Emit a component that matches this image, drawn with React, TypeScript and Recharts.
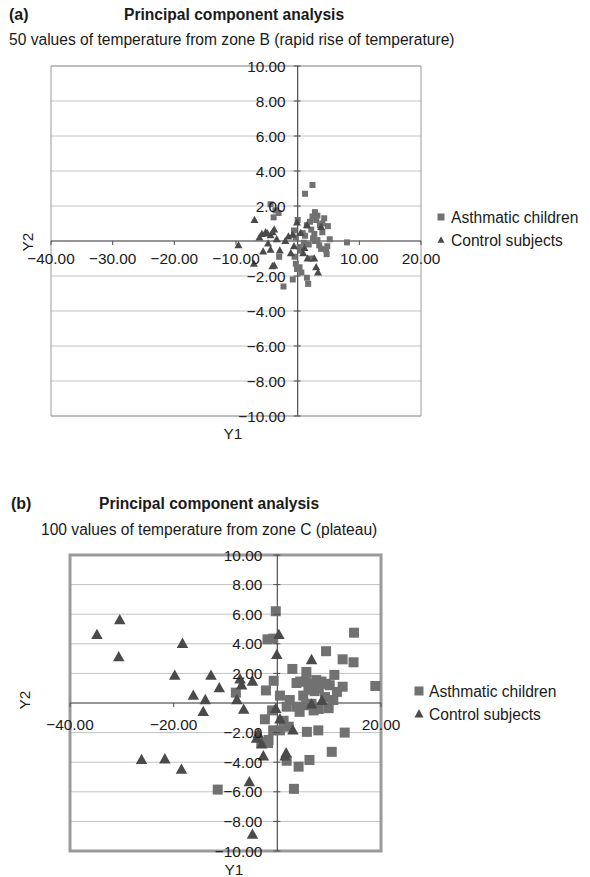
import React from 'react';
import { ScatterChart, Scatter, XAxis, YAxis, CartesianGrid, ReferenceLine, ReferenceArea, Legend } from 'recharts';

// PCA scores [Y1, Y2]
const asthmaticZoneB = [
  [2.4, 3.2], [1.2, 2.7], [-4.4, 2.1], [-3.6, 1.75], [-3.9, 1.35], [-3.1, 1.6],
  [0.0, 1.2], [2.8, 1.65], [3.2, 1.45], [4.3, 1.3], [4.9, 0.85], [5.2, 0.1], [8.0, -0.08],
  [4.6, -0.5], [4.7, -0.75], [4.8, -0.3], [0.8, 0.45], [2.2, 0.65], [2.7, 0.4], [2.5, 0.15],
  [3.2, 0.05], [3.5, -0.25], [3.8, -0.45], [1.5, 0.9], [2.0, 1.1], [3.6, 0.9], [4.0, 0.5],
  [1.0, -0.1], [0.3, -0.35], [0.5, -0.55], [-0.5, -0.9], [-0.3, -1.3], [-0.1, -1.6], [0.3, -1.5],
  [-0.8, -2.2], [-2.3, -2.6], [1.5, -2.1], [1.7, -2.45], [-3.0, -0.9], [-0.6, 0.6], [-0.3, 0.2],
  [1.8, -0.2], [2.2, -1.0], [2.8, 0.0], [1.2, 0.3], [3.0, 1.2], [2.4, 1.4], [4.0, 1.0], [0.6, -1.8],
];

const controlZoneB = [
  [-9.6, -0.25], [-7.0, 1.2], [-7.1, -1.3], [-5.8, 0.4], [-5.2, 0.5], [-4.9, 0.42], [-4.4, 0.32],
  [-4.05, 0.5], [-3.8, 0.65], [-5.6, -0.6], [-4.4, -0.5], [-4.8, -0.15], [-4.1, -1.45], [-3.8, -1.4],
  [-2.9, -0.55], [-2.0, 0.0], [-1.5, 0.25], [-0.8, 0.35], [-1.1, -0.7], [-0.1, 1.05], [0.5, 0.45],
  [1.5, 0.9], [3.8, 0.8], [1.1, -0.4], [1.6, -1.0], [2.7, -1.0], [3.0, -1.5], [3.3, -1.8],
  [-0.6, -0.3], [0.9, -0.7], [-3.4, 0.1], [-6.2, 0.2],
];

const asthmaticZoneC = [
  [-0.3, 6.2], [-1.9, 4.3], [-0.8, 4.35], [14.8, 4.75], [9.4, 3.5], [12.6, 2.95], [14.7, 2.75],
  [2.9, 2.3], [5.6, 2.1], [11.0, 1.9], [18.9, 1.15], [-0.7, 1.5], [-2.2, 0.85], [-8.0, 0.7], [0.5, 0.5],
  [3.7, 1.35], [4.4, 1.45], [5.5, 1.45], [6.6, 1.3], [7.5, 1.55], [8.5, 1.45], [9.4, 1.3], [10.1, 1.2],
  [6.0, 0.9], [7.2, 0.8], [8.0, 1.0], [12.6, 1.1], [11.5, 0.75], [10.8, 0.2], [9.9, -0.35],
  [2.4, 0.2], [3.7, -0.25], [1.8, -0.25], [5.5, -0.15], [6.6, -0.05], [8.0, -0.4], [9.2, 0.4],
  [5.0, 0.5], [7.0, -0.5], [-2.4, -1.1], [-0.8, -1.85], [0.5, -1.85], [-1.7, -2.5], [-3.1, -2.7],
  [-1.8, -2.7], [5.7, -1.95], [7.9, -1.85], [13.0, -2.0], [10.5, -3.3], [1.8, -3.9], [4.1, -4.3],
  [6.2, -3.85], [3.2, -5.8], [-11.5, -5.85], [-1.0, -0.5], [1.2, -1.2], [2.2, -1.6], [4.3, -0.6],
];

const controlZoneC = [
  [-34.8, 4.6], [-30.4, 5.6], [-30.6, 3.1], [-18.3, 4.0], [-19.8, 1.85], [-26.2, -3.85], [-21.7, -3.8],
  [-18.5, -4.5], [-16.2, 0.5], [-13.9, 0.2], [-14.3, -0.6], [-12.8, 1.85], [-11.2, 1.0], [-7.2, 1.6],
  [-6.9, 1.2], [-7.8, 0.2], [-6.5, -0.45], [-4.8, 1.45], [-0.1, 3.25], [0.3, 4.6], [-0.3, -0.4],
  [0.5, -1.1], [3.0, -1.85], [1.7, -3.4], [1.5, -3.6], [-3.7, -2.1], [-4.0, -2.4], [-3.0, -2.8],
  [-2.7, -3.6], [-5.4, -5.35], [-4.8, -8.9], [6.6, 2.9], [6.6, -0.1], [8.6, 0.15],
];

const y2Ticks = [-10, -8, -6, -4, -2, 0, 2, 4, 6, 8, 10];
const y1TicksB = [-40, -30, -20, -10, 0, 10, 20];
const y1TicksC = [-40, -20, 0, 20];
const seriesNames = ['Asthmatic children', 'Control subjects'];

const FONT = '"Liberation Sans", Arial, Helvetica, sans-serif';
const SQUARE = '#717171';
const TRIANGLE = '#4a4a4a';
const AXIS = '#4d4d4d';
const GRID = '#c2c2c2';
const TEXT = '#1a1a1a';

const toPoints = (rows: number[][]) => rows.map(([y1, y2]) => ({ y1, y2 }));
const fmt = (v: number) => (v < 0 ? '\u2212' : '') + Math.abs(v).toFixed(2);

const squareShape = (s: number) => (p: any) => (
  <rect x={p.cx - s / 2} y={p.cy - s / 2} width={s} height={s} fill={SQUARE} />
);
const triangleShape = (s: number) => (p: any) => {
  const h = s * 0.9;
  return (
    <polygon
      points={`${p.cx},${p.cy - h * 0.6} ${p.cx + s / 2},${p.cy + h * 0.4} ${p.cx - s / 2},${p.cy + h * 0.4}`}
      fill={TRIANGLE}
    />
  );
};

type PanelProps = {
  top: number;
  height: number;
  margin: { top: number; left: number; right: number; bottom: number };
  xDomain: [number, number];
  xTicks: number[];
  asthmatic: number[][];
  control: number[][];
  sq: number;
  tri: number;
  xLabelDy: number;
  yLabelGap: number;
  borderWidth: number;
  legendPos: { left: number; top: number };
  legendIcon: number;
};

const Panel = (props: PanelProps) => {
  const { margin, xDomain } = props;
  const width = 590;
  // axes take 1px each (an axis of size 0 is not drawn)
  const plotW = width - margin.left - margin.right - 1;
  const plotH = props.height - margin.top - margin.bottom - 1;
  const zeroX = (plotW * (0 - xDomain[0])) / (xDomain[1] - xDomain[0]);

  // x tick labels sit under the horizontal axis (Y2 = 0, middle of the plot)
  const xTick = (p: any) => {
    const v = p.payload.value;
    if (v === 0) return <g />;
    const y0 = p.y - plotH / 2;
    return (
      <g>
        <line x1={p.x} x2={p.x} y1={y0} y2={y0 + 4} stroke={AXIS} />
        <text x={p.x} y={y0 + props.xLabelDy} textAnchor="middle" fontSize={15.4} fill={TEXT} fontFamily={FONT}>
          {fmt(v)}
        </text>
      </g>
    );
  };

  // y tick labels sit left of the vertical axis (Y1 = 0)
  const yTick = (p: any) => {
    const v = p.payload.value;
    if (v === 0) return <g />;
    const x0 = p.x + zeroX;
    return (
      <g>
        <line x1={x0 - 4} x2={x0 + 3} y1={p.y} y2={p.y} stroke={AXIS} />
        <text x={x0 - props.yLabelGap} y={p.y} dy="0.36em" textAnchor="end" fontSize={15.4} fill={TEXT} fontFamily={FONT}>
          {fmt(v)}
        </text>
      </g>
    );
  };

  const legend = (lp: any) => {
    const s = props.legendIcon;
    return (
      <svg width={160} height={50} style={{ overflow: 'visible' }}>
        {(lp.payload || []).map((e: any, i: number) => {
          const cy = 10 + i * 23;
          return (
            <g key={e.value}>
              {e.type === 'square' ? (
                <rect x={8 - s / 2} y={cy - s / 2} width={s} height={s} fill={SQUARE} />
              ) : (
                <polygon points={`8,${cy - s * 0.55} ${8 + s / 2},${cy + s * 0.4} ${8 - s / 2},${cy + s * 0.4}`} fill={TRIANGLE} />
              )}
              <text x={18} y={cy + 5.5} fontSize={15.6} fill={TEXT} fontFamily={FONT}>
                {e.value}
              </text>
            </g>
          );
        })}
      </svg>
    );
  };

  return (
    <div style={{ position: 'absolute', left: 0, top: props.top }}>
      <ScatterChart width={width} height={props.height} margin={margin}>
        <CartesianGrid vertical={false} stroke={GRID} />
        <ReferenceArea
          x1={xDomain[0]} x2={xDomain[1]} y1={-10} y2={10}
          fill="none" fillOpacity={0} stroke="#9a9a9a" strokeWidth={props.borderWidth}
        />
        <XAxis
          type="number" dataKey="y1" domain={xDomain} ticks={props.xTicks} interval={0}
          height={1} tickSize={0} tickMargin={0} axisLine={false} tick={xTick} allowDataOverflow
        />
        <YAxis
          type="number" dataKey="y2" domain={[-10, 10]} ticks={y2Ticks} interval={0}
          width={1} tickSize={0} tickMargin={0} axisLine={false} tick={yTick} allowDataOverflow
        />
        <ReferenceLine y={0} stroke={AXIS} strokeWidth={1.2} />
        <ReferenceLine x={0} stroke={AXIS} strokeWidth={1.2} />
        <Scatter
          name={seriesNames[0]} data={toPoints(props.asthmatic)} fill={SQUARE} legendType="square"
          shape={squareShape(props.sq)} isAnimationActive={false}
        />
        <Scatter
          name={seriesNames[1]} data={toPoints(props.control)} fill={TRIANGLE} legendType="triangle"
          shape={triangleShape(props.tri)} isAnimationActive={false}
        />
        <Legend
          layout="horizontal" verticalAlign="middle" align="center" content={legend}
          wrapperStyle={{ left: props.legendPos.left, top: props.legendPos.top, width: 160 }}
        />
      </ScatterChart>
    </div>
  );
};

const txt = { fontFamily: FONT, fill: TEXT };

export default function App() {
  return (
    <div style={{ position: 'absolute', left: 0, top: 0, width: 590, height: 877, background: '#fff' }}>
      <Panel
        top={0} height={440}
        margin={{ top: 66, left: 50, right: 169, bottom: 23 }}
        xDomain={[-40, 20]} xTicks={y1TicksB}
        asthmatic={asthmaticZoneB} control={controlZoneB}
        sq={6} tri={8} xLabelDy={22.5} yLabelGap={12} borderWidth={1}
        legendPos={{ left: 433, top: 207 }} legendIcon={7}
      />
      <Panel
        top={440} height={437}
        margin={{ top: 115, left: 69, right: 209, bottom: 25 }}
        xDomain={[-40, 20]} xTicks={y1TicksC}
        asthmatic={asthmaticZoneC} control={controlZoneC}
        sq={10} tri={11.5} xLabelDy={27} yLabelGap={15} borderWidth={3}
        legendPos={{ left: 411, top: 241 }} legendIcon={9}
      />
      <svg width={590} height={877} style={{ position: 'absolute', left: 0, top: 0, pointerEvents: 'none' }}>
        <text x={9} y={19.5} fontSize={16} fontWeight="bold" {...txt}>(a)</text>
        <text x={124} y={19.5} fontSize={15.6} fontWeight="bold" {...txt}>Principal component analysis</text>
        <text x={9} y={44.5} fontSize={15.6} {...txt}>50 values of temperature from zone B (rapid rise of temperature)</text>
        <text x={27.5} y={242} fontSize={15.4} textAnchor="middle" dy="0.36em" transform="rotate(-90 27.5 242)" {...txt}>Y2</text>
        <text x={233} y={439} fontSize={15.4} textAnchor="middle" {...txt}>Y1</text>

        <text x={11} y={509} fontSize={16} fontWeight="bold" {...txt}>(b)</text>
        <text x={99} y={509} fontSize={15.6} fontWeight="bold" {...txt}>Principal component analysis</text>
        <text x={41} y={535} fontSize={15.6} {...txt}>100 values of temperature from zone C (plateau)</text>
        <text x={24} y={700} fontSize={15.4} textAnchor="middle" dy="0.36em" transform="rotate(-90 24 700)" {...txt}>Y2</text>
        <text x={234} y={875} fontSize={15.4} textAnchor="middle" {...txt}>Y1</text>
      </svg>
    </div>
  );
}
